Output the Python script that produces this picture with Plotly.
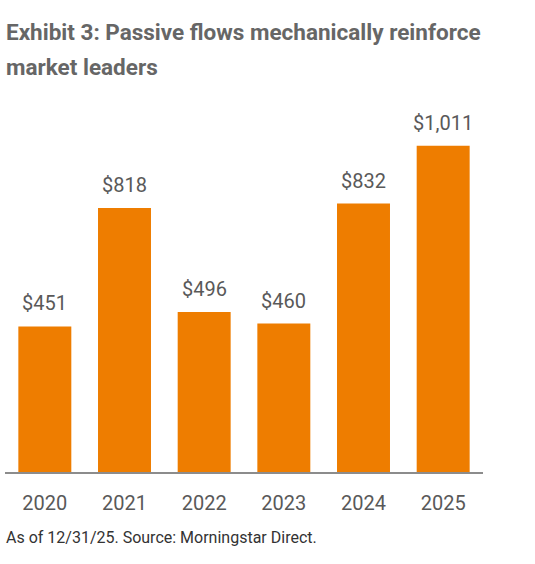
import plotly.graph_objects as go

# Passive flows by year ($bn)
years = ["2020", "2021", "2022", "2023", "2024", "2025"]
flows = [451, 818, 496, 460, 832, 1011]
flow_labels = ["$451", "$818", "$496", "$460", "$832", "$1,011"]

title_lines = ["Exhibit 3: Passive flows mechanically reinforce", "market leaders"]
note = "As of 12/31/25. Source: Morningstar Direct."

orange = "#EE7D00"
grey = "#595959"

fig = go.Figure(go.Bar(
    x=years,
    y=flows,
    marker_color=orange,
    marker_line_width=0,
    hoverinfo="x+y",
))

# value labels above the bars (index positions on the category axis)
for i, (val, lab) in enumerate(zip(flows, flow_labels)):
    fig.add_annotation(
        x=i, y=val, xref="x", yref="y", text=lab, showarrow=False,
        yanchor="bottom", yshift=9,
        font=dict(family="Roboto", size=20, color=grey),
    )

# title as two lines with wider spacing
for line, ypos in zip(title_lines, [1.183, 1.089]):
    fig.add_annotation(
        text="<b>" + line + "</b>", xref="paper", yref="paper",
        x=-0.003, y=ypos, xanchor="left", yanchor="middle", showarrow=False,
        font=dict(family="Roboto", size=22.5, color="#666666"),
    )

fig.add_annotation(
    text=note, xref="paper", yref="paper", x=-0.003, y=-0.175,
    xanchor="left", yanchor="middle", showarrow=False,
    font=dict(family="Roboto", size=16, color="#333333"),
)

fig.update_layout(
    width=535, height=564,
    paper_bgcolor="white", plot_bgcolor="white",
    margin=dict(l=5, r=52, t=100, b=92),
    bargap=0.335,
    showlegend=False,
    xaxis=dict(
        type="category",
        showline=True, linecolor="#8c8c8c", linewidth=2,
        ticks="", ticklabelstandoff=12,
        tickfont=dict(family="Roboto", size=20, color=grey),
        range=[-0.5, 5.5],
    ),
    yaxis=dict(
        range=[0, 1153], showgrid=False, zeroline=False,
        showticklabels=False, showline=False, ticks="",
    ),
)

fig.write_html("out.html", config={"displayModeBar": False},
               post_script="document.body.style.margin='0';")
